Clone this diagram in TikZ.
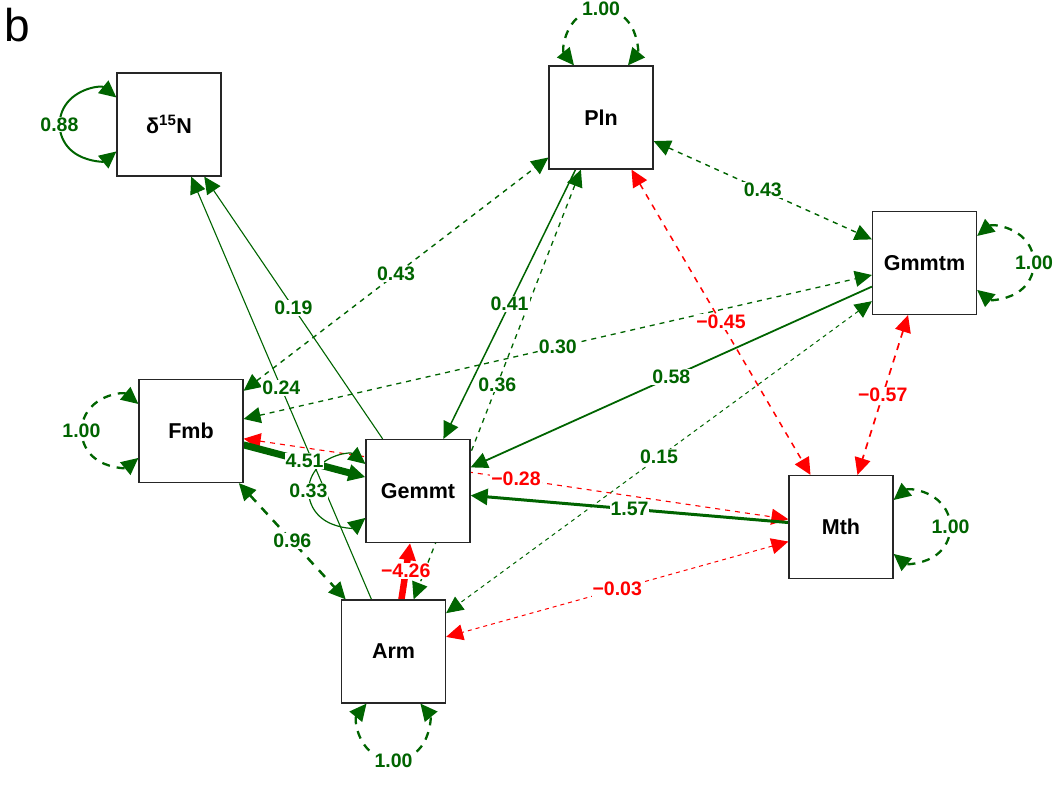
\documentclass[tikz,border=0pt]{standalone}
\usepackage{fontspec}
\setmainfont{Liberation Sans}
\usetikzlibrary{arrows.meta}
\definecolor{pathgreen}{HTML}{006400}
\definecolor{pathred}{HTML}{FF0000}
\pgfdeclarelayer{edgelayer}
\pgfdeclarelayer{labellayer}
\pgfsetlayers{edgelayer,labellayer,main}

\tikzset{
  var/.style={draw=black!85, line width=1.2pt, fill=white,
    minimum width=104pt, minimum height=103pt, inner sep=0pt,
    font=\fontsize{21.5}{22}\selectfont\bfseries},
  onehead/.style={-{Triangle[length=17pt,width=16pt]}},
  twohead/.style={{Triangle[length=17pt,width=16pt]}-{Triangle[length=17pt,width=16pt]}},
  gpath/.style={draw=pathgreen},
  rpath/.style={draw=pathred},
  edgelabel/.style={fill=white, inner sep=1pt, text=#1,
    font=\fontsize{19.5}{20}\selectfont\bfseries},
  loopdash/.style={dash pattern=on 8pt off 7pt},
}

% one straight connector between two variables, with its weight at the middle
\newcommand\semlink[5]{%
  \begin{pgfonlayer}{edgelayer}\draw[#1] (#2) -- (#3);\end{pgfonlayer}%
  \begin{pgfonlayer}{labellayer}\path (#2) -- node[edgelabel=#4] {#5} (#3);\end{pgfonlayer}%
}

\begin{document}
\begin{tikzpicture}[x=1pt,y=1pt]
\useasboundingbox (0,0) rectangle (1056,795);

\node[anchor=base west, font=\fontsize{46}{46}\selectfont] (panel) at (1,753) {b};

% variables
\node[var] (nfifteen) at (169,670.5) {δ\textsuperscript{15}N};
\node[var] (pln)      at (601,677.5) {Pln};
\node[var] (gmmtm)    at (924.5,532) {Gmmtm};
\node[var] (fmb)      at (191,364)   {Fmb};
\node[var] (gemmt)    at (418,304)   {Gemmt};
\node[var] (arm)      at (393.5,143.5) {Arm};
\node[var] (mth)      at (841,268)   {Mth};

% covariances
\semlink{gpath,twohead,line width=1.4pt,dash pattern=on 5pt off 5pt}{fmb}{pln}{pathgreen}{0.43}
\semlink{gpath,twohead,line width=1.3pt,dash pattern=on 5pt off 5pt}{fmb}{gmmtm}{pathgreen}{0.30}
\semlink{gpath,twohead,line width=1.3pt,dash pattern=on 5pt off 5pt}{pln}{arm}{pathgreen}{0.36}
\semlink{gpath,twohead,line width=1.4pt,dash pattern=on 5pt off 5pt}{pln}{gmmtm}{pathgreen}{0.43}
\semlink{rpath,twohead,line width=1.5pt,dash pattern=on 6pt off 6pt}{pln}{mth}{pathred}{−0.45}
\semlink{rpath,twohead,line width=1.7pt,dash pattern=on 7pt off 6pt}{gmmtm}{mth}{pathred}{−0.57}
\semlink{gpath,twohead,line width=1pt,dash pattern=on 4pt off 4pt}{gmmtm}{arm}{pathgreen}{0.15}
\semlink{rpath,twohead,line width=1.1pt,dash pattern=on 5pt off 5pt}{fmb}{mth}{pathred}{−0.28}
\semlink{gpath,twohead,line width=2.5pt,dash pattern=on 9pt off 8pt}{fmb}{arm}{pathgreen}{0.96}
\semlink{rpath,twohead,line width=1pt,dash pattern=on 4pt off 4pt}{mth}{arm}{pathred}{−0.03}

% regressions
\semlink{gpath,onehead,line width=1.1pt}{gemmt}{nfifteen}{pathgreen}{0.19}
\semlink{gpath,onehead,line width=1.1pt}{arm}{nfifteen}{pathgreen}{0.24}
\semlink{gpath,onehead,line width=1.5pt}{pln}{gemmt}{pathgreen}{0.41}
\semlink{gpath,onehead,line width=1.8pt}{gmmtm}{gemmt}{pathgreen}{0.58}
\semlink{gpath,onehead,line width=3pt}{mth}{gemmt}{pathgreen}{1.57}
\semlink{gpath,onehead,line width=7pt}{fmb}{gemmt}{pathgreen}{4.51}
\semlink{rpath,onehead,line width=6.5pt}{arm}{gemmt}{pathred}{−4.26}

% residual variances
\begin{pgfonlayer}{edgelayer}
  \draw[gpath,twohead,line width=2pt]
    ([yshift=27pt]nfifteen.west) arc[start angle=50.8,end angle=309.2,radius=34.8pt];
  \draw[gpath,twohead,line width=1.2pt]
    ([yshift=27pt]gemmt.west) arc[start angle=50.8,end angle=309.2,radius=34.8pt];
  \draw[gpath,twohead,line width=2.3pt,loopdash]
    ([yshift=27pt]fmb.west) arc[start angle=50.8,end angle=309.2,radius=34.8pt];
  \draw[gpath,twohead,line width=2.3pt,loopdash]
    ([xshift=-27pt]pln.north) arc[start angle=219.2,end angle=-39.2,radius=34.8pt];
  \draw[gpath,twohead,line width=2.3pt,loopdash]
    ([yshift=27pt]gmmtm.east) arc[start angle=129.2,end angle=-129.2,radius=34.8pt];
  \draw[gpath,twohead,line width=2.3pt,loopdash]
    ([yshift=27pt]mth.east) arc[start angle=129.2,end angle=-129.2,radius=34.8pt];
  \draw[gpath,twohead,line width=2.3pt,loopdash]
    ([xshift=-27pt]arm.south) arc[start angle=140.8,end angle=399.2,radius=34.8pt];
\end{pgfonlayer}
\begin{pgfonlayer}{labellayer}
  \node[edgelabel=pathgreen] (vnfifteen) at ([xshift=-57pt]nfifteen.west) {0.88};
  \node[edgelabel=pathgreen] (vgemmt) at ([xshift=-57pt]gemmt.west) {0.33};
  \node[edgelabel=pathgreen] (vfmb) at ([xshift=-57pt]fmb.west) {1.00};
  \node[edgelabel=pathgreen] (vpln) at ([yshift=57pt]pln.north) {1.00};
  \node[edgelabel=pathgreen] (vgmmtm) at ([xshift=57pt]gmmtm.east) {1.00};
  \node[edgelabel=pathgreen] (vmth) at ([xshift=57pt]mth.east) {1.00};
  \node[edgelabel=pathgreen] (varm) at ([yshift=-57pt]arm.south) {1.00};
\end{pgfonlayer}
\end{tikzpicture}
\end{document}
